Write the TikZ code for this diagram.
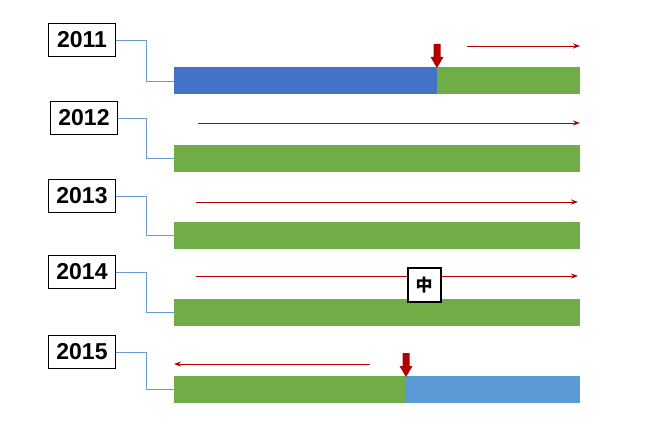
\documentclass[tikz,border=0pt]{standalone}
\usepackage{fontspec}
\setmainfont{Liberation Sans}
\newfontfamily\cjk{Noto Sans CJK KR}
\usetikzlibrary{arrows.meta}
\definecolor{barblue}{HTML}{4472C4}
\definecolor{bargreen}{HTML}{70AD47}
\definecolor{lightblue}{HTML}{5B9BD5}
\definecolor{darkred}{HTML}{B00000}
\definecolor{conn}{HTML}{6A9BD0}
\begin{document}
\begin{tikzpicture}[x=1pt,y=-1pt,
  yearbox/.style={draw=black,line width=1.1pt,fill=white,minimum width=67pt,minimum height=33pt,inner sep=0pt,font=\fontsize{23}{25}\selectfont\bfseries},
  connline/.style={draw=conn,line width=0.7pt},
  flowarrow/.style={draw=darkred,line width=0.9pt,-{Stealth[length=7pt,width=5pt]}},
  downarrow/.style={fill=darkred,draw=none}]
\useasboundingbox (0,0) rectangle (653,441);
% bars
\fill[barblue] (174,67) rectangle (437,94);
\fill[bargreen] (437,67) rectangle (580,94);
\fill[bargreen] (174,145) rectangle (580,172);
\fill[bargreen] (174,222) rectangle (580,249);
\fill[bargreen] (174,299) rectangle (580,326);
\fill[bargreen] (174,376) rectangle (406,403);
\fill[lightblue] (406,376) rectangle (580,403);
\coordinate (b1) at (174,81);
\coordinate (b2) at (174,158);
\coordinate (b3) at (174,235);
\coordinate (b4) at (174,312);
\coordinate (b5) at (174,389);
% year boxes
\node[yearbox] (y1) at (82,40) {2011};
\node[yearbox] (y2) at (84,118) {2012};
\node[yearbox] (y3) at (82,196) {2013};
\node[yearbox] (y4) at (82,272) {2014};
\node[yearbox] (y5) at (82,352) {2015};
% connectors
\draw[connline] (y1.east) -- (146,40) -- (146,81) -- (b1);
\draw[connline] (y2.east) -- (146,118) -- (146,158) -- (b2);
\draw[connline] (y3.east) -- (146,196) -- (146,235) -- (b3);
\draw[connline] (y4.east) -- (146,272) -- (146,312) -- (b4);
\draw[connline] (y5.east) -- (146,352) -- (146,389) -- (b5);
% flow arrows
\coordinate (a1s) at (467,46); \coordinate (a1e) at (580,46);
\coordinate (a2s) at (198,123); \coordinate (a2e) at (580,123);
\coordinate (a3s) at (196,202); \coordinate (a3e) at (578,202);
\coordinate (a4s) at (196,276); \coordinate (a4e) at (578,276);
\coordinate (a5s) at (370,364); \coordinate (a5e) at (174,364);
\draw[flowarrow] (a1s) -- (a1e);
\draw[flowarrow] (a2s) -- (a2e);
\draw[flowarrow] (a3s) -- (a3e);
\draw[flowarrow] (a4s) -- (a4e);
\draw[flowarrow] (a5s) -- (a5e);
% label box
\node[draw=black,line width=2pt,fill=white,minimum width=33pt,minimum height=34pt,inner sep=0pt,font=\cjk\fontsize{17}{19}\selectfont\bfseries] (mid) at (424,285) {中};
% down arrows
\fill[downarrow] (433.5,44) -- (440.5,44) -- (440.5,57) -- (443.5,57) -- (437,68) -- (430.5,57) -- (433.5,57) -- cycle;
\fill[downarrow] (402.5,353) -- (409.5,353) -- (409.5,366) -- (412.5,366) -- (406,377) -- (399.5,366) -- (402.5,366) -- cycle;
\end{tikzpicture}
\end{document}
